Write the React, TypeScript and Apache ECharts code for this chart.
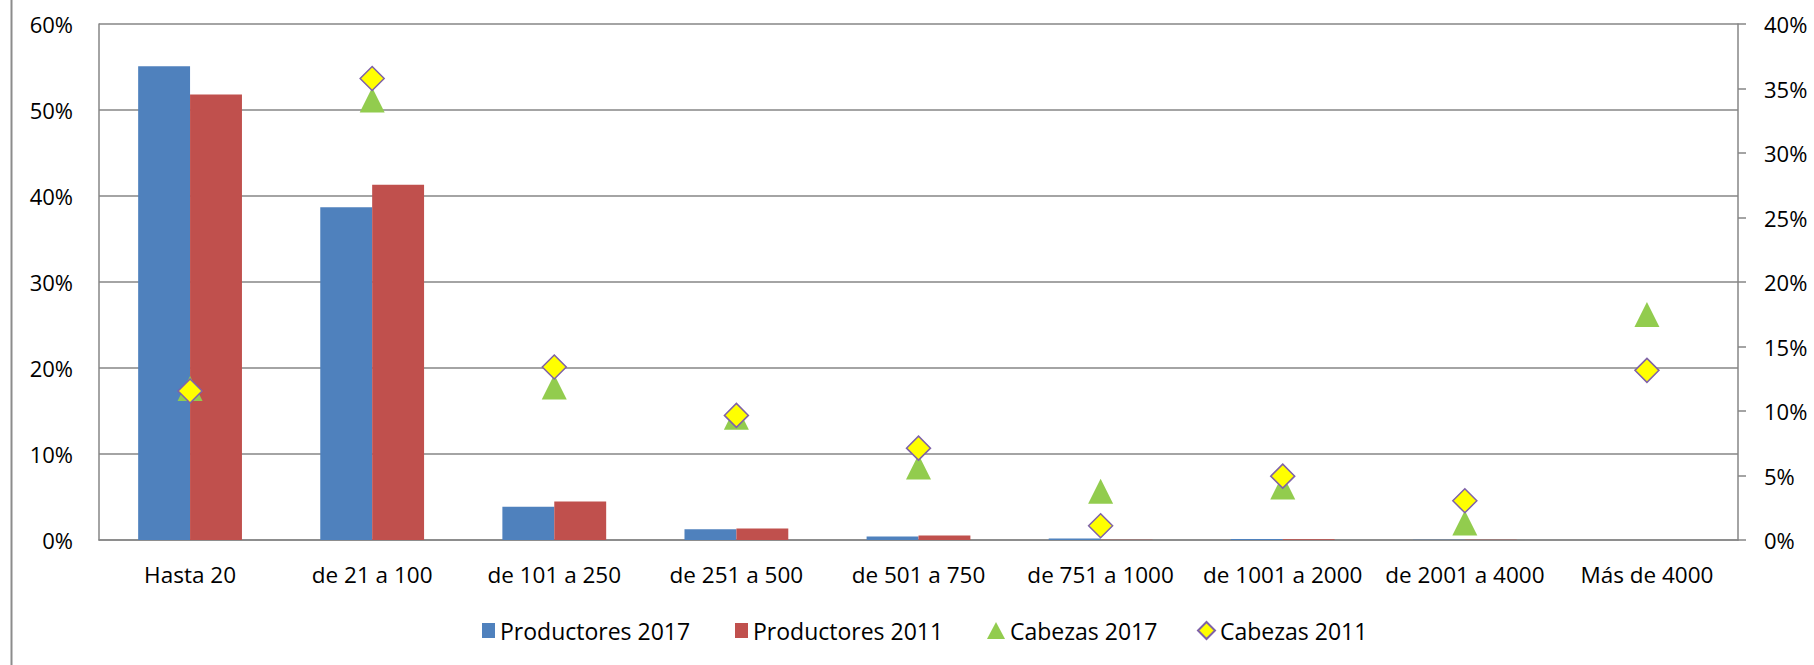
import React, { useEffect, useRef } from 'react';
import * as echarts from 'echarts';

const categories = [
  'Hasta 20',
  'de 21 a 100',
  'de 101 a 250',
  'de 251 a 500',
  'de 501 a 750',
  'de 751 a 1000',
  'de 1001 a 2000',
  'de 2001 a 4000',
  'Más de 4000',
];
const productores2017 = [55.1, 38.7, 3.86, 1.26, 0.41, 0.17, 0.12, 0.03, 0];
const productores2011 = [51.8, 41.3, 4.48, 1.34, 0.52, 0.02, 0.1, 0.02, 0];
const cabezas2017 = [11.75, 34.1, 11.87, 9.52, 5.66, 3.78, 4.11, 1.32, 17.48];
const cabezas2011 = [11.55, 35.78, 13.41, 9.66, 7.12, 1.1, 4.95, 3.04, 13.15];

const leftAxisMax = 60;
const leftAxisStep = 10;
const rightAxisMax = 40;
const rightAxisStep = 5;

const seriesNames = ['Productores 2017', 'Productores 2011', 'Cabezas 2017', 'Cabezas 2011'];

const FONT = "'Open Sans', sans-serif";
const GRAY = '#868686';

export default function App() {
  const ref = useRef<HTMLDivElement>(null);
  useEffect(() => {
    if (!ref.current) return;
    const chart = echarts.init(ref.current, null, { renderer: 'svg' });
    const legendText = { color: '#000', fontSize: 23, fontFamily: FONT };
    chart.setOption({
      animation: false,
      backgroundColor: '#fff',
      grid: { left: 99, right: 76, top: 24, bottom: 125, containLabel: false },
      legend: [
        {
          data: [{ name: seriesNames[0], icon: 'rect' }],
          left: 482, top: 619, padding: 0, itemWidth: 13, itemHeight: 15,
          textStyle: legendText, selectedMode: false,
        },
        {
          data: [{ name: seriesNames[1], icon: 'rect' }],
          left: 735, top: 619, padding: 0, itemWidth: 13, itemHeight: 15,
          textStyle: legendText, selectedMode: false,
        },
        {
          data: [{ name: seriesNames[2], icon: 'triangle' }],
          left: 987, top: 619, padding: 0, itemWidth: 18, itemHeight: 17,
          textStyle: legendText, selectedMode: false,
        },
        {
          data: [{ name: seriesNames[3], icon: 'diamond' }],
          left: 1197, top: 619, padding: 0, itemWidth: 17, itemHeight: 17,
          textStyle: legendText, selectedMode: false,
        },
      ],
      xAxis: {
        type: 'category',
        data: categories,
        axisLine: { show: true, lineStyle: { color: GRAY, width: 1.5 } },
        axisTick: { show: false },
        axisLabel: { color: '#000', fontSize: 22.5, fontFamily: FONT, margin: 23, interval: 0 },
        splitLine: { show: false },
      },
      yAxis: [
        {
          type: 'value',
          min: 0,
          max: leftAxisMax,
          interval: leftAxisStep,
          axisLine: { show: true, lineStyle: { color: GRAY, width: 1.5 } },
          axisTick: { show: false },
          axisLabel: { color: '#000', fontSize: 22, fontFamily: FONT, margin: 26, formatter: '{value}%' },
          splitLine: { show: true, lineStyle: { color: GRAY, width: 1.5 } },
        },
        {
          type: 'value',
          min: 0,
          max: rightAxisMax,
          interval: rightAxisStep,
          position: 'right',
          axisLine: { show: true, lineStyle: { color: GRAY, width: 1.5 } },
          axisTick: { show: true, inside: false, length: 8, lineStyle: { color: GRAY, width: 1.5 } },
          axisLabel: { color: '#000', fontSize: 22, fontFamily: FONT, margin: 26, formatter: '{value}%' },
          splitLine: { show: false },
        },
      ],
      series: [
        {
          name: seriesNames[0],
          type: 'bar',
          data: productores2017,
          yAxisIndex: 0,
          barGap: '0%',
          barCategoryGap: '43%',
          itemStyle: { color: '#4F81BD' },
        },
        {
          name: seriesNames[1],
          type: 'bar',
          data: productores2011,
          yAxisIndex: 0,
          barGap: '0%',
          barCategoryGap: '43%',
          itemStyle: { color: '#C0504D' },
        },
        {
          name: seriesNames[2],
          type: 'scatter',
          data: cabezas2017,
          yAxisIndex: 1,
          symbol: 'triangle',
          symbolSize: 25,
          itemStyle: { color: '#92CC4E', opacity: 1 },
        },
        {
          name: seriesNames[3],
          type: 'scatter',
          data: cabezas2011,
          yAxisIndex: 1,
          symbol: 'diamond',
          symbolSize: 24,
          itemStyle: { color: '#FFFF00', borderColor: '#7F62A8', borderWidth: 1.5, opacity: 1 },
        },
      ],
      graphic: [
        {
          type: 'line',
          shape: { x1: 11.5, y1: 0, x2: 11.5, y2: 665 },
          style: { stroke: '#8c8c8c', lineWidth: 2 },
          silent: true,
        },
      ],
    });
    return () => chart.dispose();
  }, []);
  return (
    <div
      ref={ref}
      style={{ position: 'fixed', left: 0, top: 0, width: 1814, height: 665, background: '#fff' }}
    />
  );
}
